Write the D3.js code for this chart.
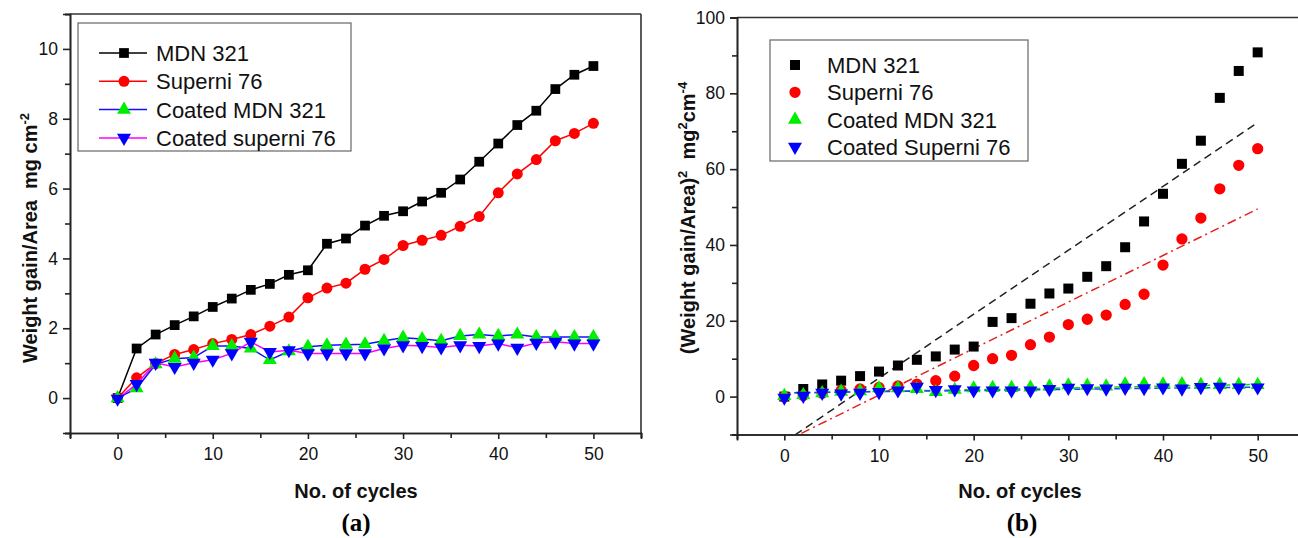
<!DOCTYPE html>
<html>
<head>
<meta charset="utf-8">
<script src="https://cdn.jsdelivr.net/npm/d3@7"></script>
<style>
  body { margin: 0; background: #fff; }
  svg { display: block; font-family: "Liberation Sans", Arial, sans-serif; }
  .axis path, .axis line { stroke: #222; stroke-width: 1.6; }
  .axis text { font-size: 17.5px; fill: #111; font-family: "Liberation Sans", Arial, sans-serif; }
  .title { font-weight: bold; font-size: 20px; fill: #111; }
  .panel { font-family: "Liberation Serif", "Times New Roman", serif; font-weight: bold; font-size: 25px; }
  .legend text { font-size: 22px; fill: #111; }
</style>
</head>
<body>
<div id="chart"></div>
<script>
// cycles (x) shared by every series
var cycles = [0, 2, 4, 6, 8, 10, 12, 14, 16, 18, 20, 22, 24, 26, 28, 30, 32, 34, 36, 38, 40, 42, 44, 46, 48, 50];

// (a) weight gain / area, mg cm^-2
var mdn = [0, 1.42, 1.82, 2.09, 2.34, 2.61, 2.85, 3.10, 3.27, 3.53, 3.66, 4.42, 4.57, 4.94, 5.22, 5.35, 5.63, 5.88, 6.26, 6.77, 7.29, 7.82, 8.23, 8.85, 9.26, 9.51];
var superni = [0, 0.58, 0.99, 1.25, 1.39, 1.56, 1.68, 1.82, 2.06, 2.32, 2.87, 3.15, 3.29, 3.69, 3.97, 4.37, 4.52, 4.66, 4.92, 5.20, 5.88, 6.42, 6.83, 7.37, 7.58, 7.87];
var coatedMdn = [0, 0.28, 0.97, 1.13, 1.16, 1.49, 1.49, 1.42, 1.09, 1.34, 1.47, 1.51, 1.53, 1.54, 1.64, 1.73, 1.69, 1.64, 1.78, 1.82, 1.78, 1.82, 1.75, 1.75, 1.75, 1.75];
var coatedSup = [-0.02, 0.40, 1.01, 0.89, 1.01, 1.10, 1.28, 1.61, 1.32, 1.37, 1.28, 1.28, 1.28, 1.28, 1.42, 1.51, 1.49, 1.45, 1.51, 1.49, 1.56, 1.44, 1.58, 1.61, 1.56, 1.56];

// (b) (weight gain / area)^2, mg^2 cm^-4
var mdnSq = [0, 2.0, 3.2, 4.2, 5.4, 6.6, 8.2, 9.7, 10.6, 12.4, 13.2, 19.7, 20.7, 24.5, 27.2, 28.5, 31.6, 34.4, 39.4, 46.2, 53.5, 61.4, 67.5, 78.8, 85.9, 90.8];
var supSq = [0, 0.3, 0.9, 1.6, 2.0, 2.4, 2.8, 3.3, 4.2, 5.4, 8.2, 10.0, 10.9, 13.7, 15.7, 19.0, 20.4, 21.5, 24.3, 27.0, 34.7, 41.6, 47.1, 54.8, 61.0, 65.4];
var coatedMdnSq = [0.2, 0.4, 0.9, 1.3, 1.4, 2.2, 2.2, 2.0, 1.2, 1.8, 2.2, 2.3, 2.3, 2.4, 2.7, 3.0, 2.9, 2.7, 3.2, 3.3, 3.2, 3.3, 3.1, 3.1, 3.1, 3.1];
var coatedSupSq = [-0.3, 0.2, 1.0, 0.8, 1.0, 1.2, 1.6, 2.6, 1.7, 1.9, 1.6, 1.6, 1.6, 1.6, 2.0, 2.3, 2.2, 2.1, 2.3, 2.2, 2.4, 2.1, 2.5, 2.6, 2.4, 2.4];

// linear fits in (b), end points
var fitX = [0, 50];
var fitMdn = [-12.0, 72.3];
var fitSup = [-11.9, 49.5];
var fitCoatedMdn = [0.9, 3.2];
var fitCoatedSup = [1.0, 2.5];

var xTicks = [0, 10, 20, 30, 40, 50];
var yTicksA = [0, 2, 4, 6, 8, 10];
var yTicksB = [0, 20, 40, 60, 80, 100];
var namesA = ['MDN 321', 'Superni 76', 'Coated MDN 321', 'Coated superni 76'];
var namesB = ['MDN 321', 'Superni 76', 'Coated MDN 321', 'Coated Superni 76'];

var W = 1298, H = 538;
var svg = d3.select('#chart').append('svg').attr('width', W).attr('height', H);

function symbolPath(kind, size) {
  var t = {square: d3.symbolSquare, circle: d3.symbolCircle, up: d3.symbolTriangle, down: d3.symbolTriangle}[kind];
  return d3.symbol().type(t).size(size)();
}

function drawMarker(g, kind, size, fill, x, y) {
  g.append('path')
    .attr('d', symbolPath(kind, size))
    .attr('fill', fill)
    .attr('transform', 'translate(' + x + ',' + y + ')' + (kind === 'down' ? ' rotate(180)' : ''));
}

function series(xs, ys) {
  return xs.map(function (d, i) { return {x: d, y: ys[i]}; });
}

function frame(g, x, y, opts) {
  var x0 = x.range()[0], x1 = x.range()[1], y0 = y.range()[0], y1 = y.range()[1];
  // top and right lines
  g.append('line').attr('x1', x0).attr('x2', x1).attr('y1', y1).attr('y2', y1)
    .attr('stroke', '#333').attr('stroke-width', 1.6);
  g.append('line').attr('x1', x1).attr('x2', x1).attr('y1', y1).attr('y2', y0)
    .attr('stroke', '#333').attr('stroke-width', 1.6);

  var xAxis = d3.axisBottom(x).tickValues(xTicks).tickSize(6).tickPadding(9).tickFormat(d3.format('d'));
  var xMinor = d3.axisBottom(x).tickValues(opts.xMinor).tickSize(5).tickFormat('');
  var yAxis = d3.axisLeft(y).tickValues(opts.yTicks).tickSize(7).tickPadding(5).tickFormat(d3.format('d'));
  var yMinor = d3.axisLeft(y).tickValues(opts.yMinor).tickSize(5).tickFormat('');

  g.append('g').attr('class', 'axis').attr('transform', 'translate(0,' + y0 + ')').call(xMinor);
  g.append('g').attr('class', 'axis').attr('transform', 'translate(0,' + y0 + ')').call(xAxis);
  g.append('g').attr('class', 'axis').attr('transform', 'translate(' + x0 + ',0)').call(yMinor);
  g.append('g').attr('class', 'axis').attr('transform', 'translate(' + x0 + ',0)').call(yAxis);
  g.selectAll('.axis path.domain').attr('stroke-width', 1.8);
}

// ---------- panel (a) ----------
var xA = d3.scaleLinear().domain([-5, 55]).range([70, 641]);
var yA = d3.scaleLinear().domain([-1, 11]).range([433, 14]);
var gA = svg.append('g');

frame(gA, xA, yA, {
  yTicks: yTicksA,
  xMinor: [-5, 5, 15, 25, 35, 45, 55],
  yMinor: [-1, 1, 3, 5, 7, 9, 11]
});

var lineA = d3.line().x(function (d) { return xA(d.x); }).y(function (d) { return yA(d.y); });
var seriesA = [
  {vals: mdn, stroke: '#000', fill: '#000', kind: 'square', size: 95},
  {vals: superni, stroke: '#ff0000', fill: '#ff0000', kind: 'circle', size: 95},
  {vals: coatedMdn, stroke: '#1010ff', fill: '#00ee00', kind: 'up', size: 85},
  {vals: coatedSup, stroke: '#ff00ff', fill: '#0000ff', kind: 'down', size: 85}
];
seriesA.forEach(function (s) {
  var pts = series(cycles, s.vals);
  gA.append('path').datum(pts).attr('d', lineA)
    .attr('fill', 'none').attr('stroke', s.stroke).attr('stroke-width', 1.5);
  pts.forEach(function (p) { drawMarker(gA, s.kind, s.size, s.fill, xA(p.x), yA(p.y)); });
});

// legend (a)
var legA = gA.append('g').attr('class', 'legend');
legA.append('rect').attr('x', 78).attr('y', 23).attr('width', 273).attr('height', 128)
  .attr('fill', '#fff').attr('stroke', '#666').attr('stroke-width', 1.2);
seriesA.forEach(function (s, i) {
  var yy = 53 + i * 28.3;
  legA.append('line').attr('x1', 99).attr('x2', 147).attr('y1', yy).attr('y2', yy)
    .attr('stroke', s.stroke).attr('stroke-width', 1.5);
  drawMarker(legA, s.kind, s.size, s.fill, 124, yy);
  legA.append('text').attr('x', 156).attr('y', yy + 8).text(namesA[i]);
});

gA.append('text').attr('class', 'title')
  .attr('transform', 'translate(37,238) rotate(-90)').attr('text-anchor', 'middle')
  .html('Weight gain/Area&#160;&#160;mg cm<tspan dy="-8" font-size="13">-2</tspan>');
gA.append('text').attr('class', 'title').attr('x', 356).attr('y', 498)
  .attr('text-anchor', 'middle').text('No. of cycles');
gA.append('text').attr('class', 'panel').attr('x', 356).attr('y', 531)
  .attr('text-anchor', 'middle').text('(a)');

// ---------- panel (b) ----------
var xB = d3.scaleLinear().domain([-5, 55]).range([737, 1305]);
var yB = d3.scaleLinear().domain([-10, 100]).range([434.5, 17.5]);
var gB = svg.append('g');

frame(gB, xB, yB, {
  yTicks: yTicksB,
  xMinor: [-5, 5, 15, 25, 35, 45, 55],
  yMinor: [-10, 10, 30, 50, 70, 90]
});

svg.append('clipPath').attr('id', 'clipB').append('rect')
  .attr('x', 737).attr('y', 17.5).attr('width', 570).attr('height', 417);

var lineB = d3.line().x(function (d) { return xB(d.x); }).y(function (d) { return yB(d.y); });
var fits = [
  {vals: fitMdn, stroke: '#222', dash: '8,5'},
  {vals: fitSup, stroke: '#e8201c', dash: '9,4,2,4'},
  {vals: fitCoatedMdn, stroke: '#22cc22', dash: '6,4'},
  {vals: fitCoatedSup, stroke: '#2040ff', dash: '6,4'}
];
var fitG = gB.append('g').attr('clip-path', 'url(#clipB)');
fits.forEach(function (f) {
  fitG.append('path').datum(series(fitX, f.vals)).attr('d', lineB)
    .attr('fill', 'none').attr('stroke', f.stroke).attr('stroke-width', 1.5)
    .attr('stroke-dasharray', f.dash);
});

var seriesB = [
  {vals: mdnSq, fill: '#000', kind: 'square', size: 100},
  {vals: supSq, fill: '#ff0000', kind: 'circle', size: 100},
  {vals: coatedMdnSq, fill: '#00ee00', kind: 'up', size: 85},
  {vals: coatedSupSq, fill: '#0000ff', kind: 'down', size: 85}
];
seriesB.forEach(function (s) {
  series(cycles, s.vals).forEach(function (p) {
    drawMarker(gB, s.kind, s.size, s.fill, xB(p.x), yB(p.y));
  });
});

// legend (b)
var legB = gB.append('g').attr('class', 'legend');
legB.append('rect').attr('x', 770).attr('y', 40).attr('width', 258).attr('height', 121)
  .attr('fill', '#fff').attr('stroke', '#666').attr('stroke-width', 1.2);
seriesB.forEach(function (s, i) {
  var yy = 65 + i * 27.3;
  drawMarker(legB, s.kind, s.size, s.fill, 795, yy);
  legB.append('text').attr('x', 827).attr('y', yy + 8).text(namesB[i]);
});

gB.append('text').attr('class', 'title')
  .attr('transform', 'translate(695,218) rotate(-90)').attr('text-anchor', 'middle')
  .html('(Weight gain/Area)<tspan dy="-8" font-size="13">2</tspan><tspan dy="8">&#160;&#160;mg</tspan><tspan dy="-8" font-size="13">2</tspan><tspan dy="8">cm</tspan><tspan dy="-8" font-size="13">-4</tspan>');
gB.append('text').attr('class', 'title').attr('x', 1020).attr('y', 498)
  .attr('text-anchor', 'middle').text('No. of cycles');
gB.append('text').attr('class', 'panel').attr('x', 1022).attr('y', 531)
  .attr('text-anchor', 'middle').text('(b)');
</script>
</body>
</html>
